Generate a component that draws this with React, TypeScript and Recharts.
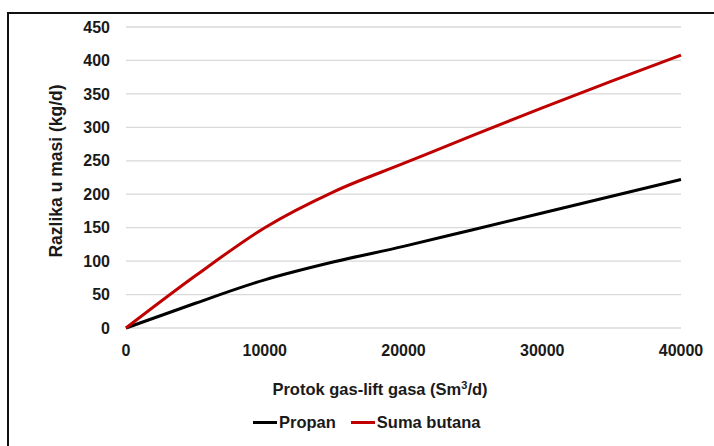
import { CartesianGrid, Label, Line, LineChart, XAxis, YAxis } from "recharts"

const flow = [0, 5000, 10000, 15000, 20000, 25000, 30000, 35000, 40000]
const propan = [0, 37, 72, 99, 122, 147, 172, 197, 222]
const sumaButana = [0, 78, 150, 204, 246, 288, 329, 369, 408]
const xTicks = [0, 10000, 20000, 30000, 40000]
const yTicks = [0, 50, 100, 150, 200, 250, 300, 350, 400, 450]

const series = [
  { key: "propan", name: "Propan", color: "#000000" },
  { key: "butana", name: "Suma butana", color: "#c00000" },
]

const data = flow.map((x, i) => ({ x, propan: propan[i], butana: sumaButana[i] }))

const FONT = "'Liberation Sans', Arial, sans-serif"
const TEXT = "#1a1a1a"
const tick = { fill: TEXT, fontSize: 16, fontWeight: 700, fontFamily: FONT }

export default function App() {
  return (
    <div style={{ position: "fixed", left: 0, top: 0, width: 714, height: 446, overflow: "hidden", background: "#fff" }}>
      <div
        style={{
          position: "absolute",
          left: 7,
          top: 12,
          width: 760,
          height: 480,
          border: "2px solid #111",
          boxSizing: "border-box",
        }}
      />
      <div style={{ position: "absolute", left: 0, top: 0 }}>
        <LineChart width={714} height={446} data={data} margin={{ top: 27, right: 33, bottom: 88, left: 66 }}>
          <CartesianGrid vertical={false} stroke="#d9d9d9" strokeWidth={1.3} />
          <XAxis
            dataKey="x"
            type="number"
            domain={[0, 40000]}
            ticks={xTicks}
            axisLine={false}
            tickLine={false}
            tickSize={0}
            tickMargin={17}
            tick={tick}
            height={30}
          >
            <Label
              content={() => (
                <text x={380} y={395} textAnchor="middle" fill={TEXT} fontSize={16.5} fontWeight={700} fontFamily={FONT}>
                  Protok gas-lift gasa (Sm
                  <tspan fontSize={11} dy={-6}>3</tspan>
                  <tspan dy={6}>/d)</tspan>
                </text>
              )}
            />
          </XAxis>
          <YAxis
            type="number"
            domain={[0, 450]}
            ticks={yTicks}
            axisLine={false}
            tickLine={false}
            tickSize={0}
            tickMargin={16}
            tick={tick}
            width={60}
          >
            <Label
              content={() => (
                <text
                  x={62}
                  y={171}
                  transform="rotate(-90 62 171)"
                  textAnchor="middle"
                  fill={TEXT}
                  fontSize={17.5}
                  fontWeight={700}
                  fontFamily={FONT}
                >
                  Razlika u masi (kg/d)
                </text>
              )}
            />
          </YAxis>
          {series.map((s) => (
            <Line
              key={s.key}
              type="monotone"
              dataKey={s.key}
              name={s.name}
              stroke={s.color}
              strokeWidth={3}
              dot={false}
              isAnimationActive={false}
            />
          ))}
        </LineChart>
      </div>
      <div
        style={{
          position: "absolute",
          left: 253,
          top: 413,
          display: "flex",
          alignItems: "center",
          fontFamily: FONT,
          fontWeight: 700,
          fontSize: 16.5,
          color: TEXT,
        }}
      >
        {series.map((s, i) => (
          <div key={s.key} style={{ display: "flex", alignItems: "center", marginLeft: i ? 15 : 0 }}>
            <span style={{ width: 24, height: 3, background: s.color, marginRight: 2 }} />
            <span>{s.name}</span>
          </div>
        ))}
      </div>
    </div>
  )
}
